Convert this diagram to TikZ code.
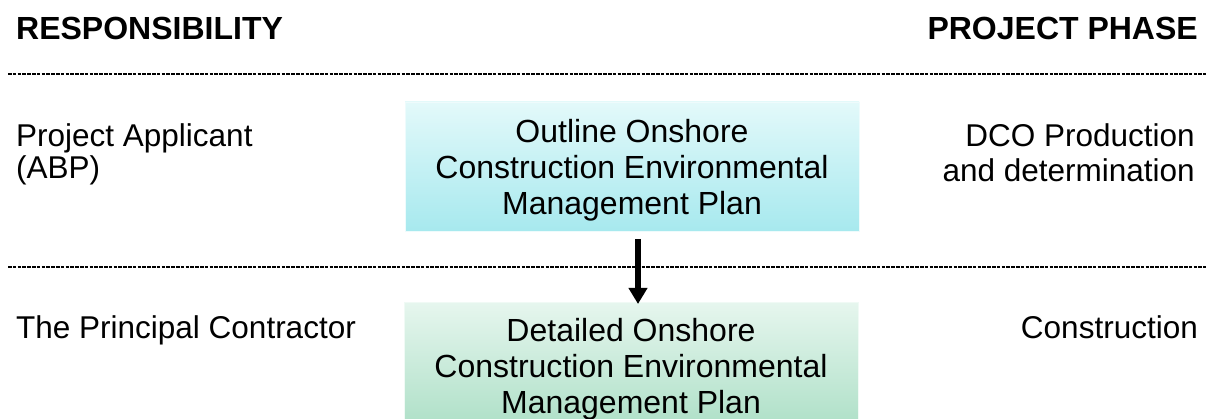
\documentclass[tikz,border=0pt]{standalone}
\usepackage{fontspec}
\setmainfont{Liberation Sans}
\usetikzlibrary{arrows.meta}
\definecolor{cyanTop}{HTML}{E3F9FA}
\definecolor{cyanBot}{HTML}{A7E9EE}
\definecolor{greenTop}{HTML}{E6F6EE}
\definecolor{greenBot}{HTML}{ACDFC6}
\tikzset{
  lbl/.style={inner sep=0pt, font=\fontsize{31.5}{32}\selectfont},
  hdr/.style={inner sep=0pt, font=\fontsize{32}{32}\selectfont\bfseries},
  planbox/.style={minimum width=454pt, minimum height=129pt, inner sep=0pt,
    draw=#1Top!60!white, line width=0.6pt,
    top color=#1Top, bottom color=#1Bot},
  boxtext/.style={inner sep=0pt, align=center, font=\fontsize{32}{36}\selectfont},
  sep/.style={line width=1.2pt, draw=black, dash pattern=on 3.5pt off 1.3pt},
  flow/.style={line width=6pt, -{Triangle[width=18pt,length=16pt]}}
}
\begin{document}
\begin{tikzpicture}[x=1pt,y=-1pt]
\useasboundingbox (0,0) rectangle (1206,419);
\clip (0,0) rectangle (1206,419);
% headers
\node[hdr, anchor=base west] (resp) at (16,40) {RESPONSIBILITY};
\node[hdr, anchor=base east] (phase) at (1198,40) {PROJECT PHASE};
% separators
\coordinate (s1a) at (8,74);
\coordinate (s1b) at (1206,74);
\coordinate (s2a) at (8,267);
\coordinate (s2b) at (1206,267);
\draw[sep] (s1a) -- (s1b);
\draw[sep] (s2a) -- (s2b);
% boxes
\node[planbox=cyan] (outline) at (632,166.5) {};
\node[boxtext, anchor=base] (outlineText) at (632,215) {Outline Onshore\\Construction Environmental\\Management Plan};
\node[planbox=green] (detailed) at (631,367) {};
\node[boxtext, anchor=base] (detailedText) at (631,413) {Detailed Onshore\\Construction Environmental\\Management Plan};
% arrow
\coordinate (arA) at (638,239);
\coordinate (arB) at (638,304);
\draw[flow] (arA) -- (arB);
% left labels
\node[lbl, anchor=base west, align=left] (app) at (16,179) {Project Applicant\\(ABP)};
\node[lbl, anchor=base west] (pc) at (16,338) {The Principal Contractor};
% right labels
\node[lbl, anchor=base east, align=right, font=\fontsize{31.5}{35}\selectfont] (dco) at (1195,182) {DCO Production\\and determination};
\node[lbl, anchor=base east] (cons) at (1198,338) {Construction};
\end{tikzpicture}
\end{document}
